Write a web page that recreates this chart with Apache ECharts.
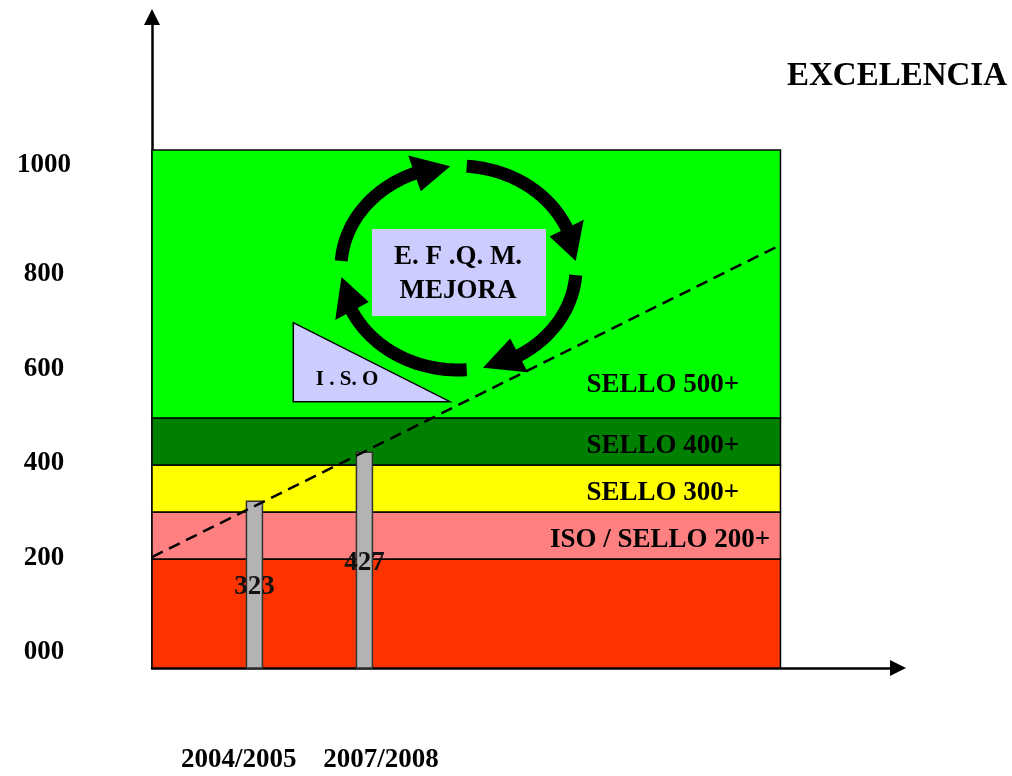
<!DOCTYPE html>
<html>
<head>
<meta charset="utf-8">
<script src="https://cdn.jsdelivr.net/npm/echarts@6/dist/echarts.min.js"></script>
<style>
html,body{margin:0;padding:0;background:#fff;}
#chart{width:1012px;height:776px;}
</style>
</head>
<body>
<div id="chart"></div>
<script>
// ---- data ----
const periods = ['2004/2005', '2007/2008'];
const barValues = [323, 427];
const barPos = [16.3, 33.8];            // x position of each bar (axis units)
const periodLabelPos = [13.8, 36.45];   // x position of period labels (axis units)
const yTickLabels = ['000', '200', '400', '600', '800', '1000'];
const yTickAt = [2, 202, 404, 604, 807, 1038];
const bandNames = ['', 'ISO / SELLO 200+', 'SELLO 300+', 'SELLO 400+', 'SELLO 500+'];
const bandEdges = [-32, 200, 300, 400, 500, 1070];
const trendFrom = [0, 204];
const trendTo = [100, 868];

// ---- styles ----
const FONT = "'Liberation Serif', 'Times New Roman', serif";
const bandColors = ['#ff3300', '#ff8080', '#ffff00', '#008000', '#00ff00'];
const bandLabelRight = [0, 11, 42, 42, 42];
const yMin = -32, yMax = 1353, xMin = 0, xMax = 118.7;
const barLabelLift = [81, 105];

function nearestIndex(arr, v) {
  let best = 0;
  for (let i = 1; i < arr.length; i++) if (Math.abs(arr[i] - v) < Math.abs(arr[best] - v)) best = i;
  return best;
}

const chart = echarts.init(document.getElementById('chart'));

const markAreaData = bandNames.map((name, i) => {
  const isTop = i === bandNames.length - 1;
  return [
    {
      name: name,
      xAxis: 0,
      yAxis: bandEdges[i],
      itemStyle: { color: bandColors[i], borderColor: '#000', borderWidth: 1.5, opacity: 1 },
      label: {
        show: name !== '',
        position: isTop ? 'insideBottomRight' : 'insideRight',
        distance: isTop ? 20 : bandLabelRight[i],
        offset: isTop ? [-(bandLabelRight[i] - 20), 0] : [0, 5],
        color: '#000',
        fontFamily: FONT,
        fontWeight: 'bold',
        fontSize: 27
      }
    },
    { xAxis: 100, yAxis: bandEdges[i + 1] }
  ];
});

// decorative cycle arrows
const cx = 458.5, cy = 268, rx = 117.5, ry = 102;
const arcs = [[184, 248, 266], [274, 337, 356], [4, 59, 78], [86, 155, 175]];
function pt(deg) { const a = deg * Math.PI / 180; return [cx + rx * Math.cos(a), cy + ry * Math.sin(a)]; }
const arrowGraphics = [];
arcs.forEach(([s, b, t]) => {
  const pts = [];
  for (let d = s; d <= b + 2; d += 1) pts.push(pt(d));
  arrowGraphics.push({
    type: 'polyline', z: 100,
    shape: { points: pts },
    style: { stroke: '#000', lineWidth: 13, fill: null, lineCap: 'butt' }
  });
  const B = pt(b), T = pt(t);
  const a = b * Math.PI / 180;
  let tx = -rx * Math.sin(a), ty = ry * Math.cos(a);
  const L = Math.hypot(tx, ty); tx /= L; ty /= L;
  const nx = -ty, ny = tx, h = 19;
  arrowGraphics.push({
    type: 'polygon', z: 100,
    shape: { points: [[B[0] + nx * h, B[1] + ny * h], [T[0], T[1]], [B[0] - nx * h, B[1] - ny * h]] },
    style: { fill: '#000' }
  });
});

const option = {
  animation: false,
  title: {
    text: 'EXCELENCIA',
    right: 0,
    top: 55,
    textStyle: { fontFamily: FONT, fontWeight: 'bold', fontSize: 33, color: '#000' }
  },
  grid: { left: 152, right: 114, top: 17, bottom: 108 },
  xAxis: {
    type: 'value',
    min: xMin, max: xMax,
    axisLine: { show: true, onZero: false, lineStyle: { color: '#000', width: 2.5 }, symbol: ['none', 'triangle'], symbolSize: [16, 16] },
    axisTick: { show: false },
    splitLine: { show: false },
    axisLabel: {
      show: true,
      customValues: periodLabelPos,
      formatter: (v) => periods[nearestIndex(periodLabelPos, v)],
      margin: 79,
      hideOverlap: false,
      color: '#000', fontFamily: FONT, fontWeight: 'bold', fontSize: 27
    }
  },
  yAxis: {
    type: 'value',
    min: yMin, max: yMax,
    axisLine: { show: true, onZero: false, lineStyle: { color: '#000', width: 2.5 }, symbol: ['none', 'triangle'], symbolSize: [16, 16] },
    axisTick: { show: false },
    splitLine: { show: false },
    axisLabel: {
      show: true,
      customValues: yTickAt,
      formatter: (v) => yTickLabels[nearestIndex(yTickAt, v)],
      align: 'center',
      margin: 108,
      hideOverlap: false,
      color: '#000', fontFamily: FONT, fontWeight: 'bold', fontSize: 27
    }
  },
  series: [
    {
      type: 'line',
      z: 1,
      data: [],
      silent: true,
      markArea: { silent: true, data: markAreaData }
    },
    {
      type: 'custom',
      z: 5,
      data: barValues.map((v, i) => [barPos[i], v]),
      renderItem: (params, api) => {
        const x = api.value(0), v = api.value(1);
        const top = api.coord([x, v]);
        const bottom = api.coord([x, yMin]);
        const w = 16;
        return {
          type: 'group',
          children: [
            { type: 'rect', shape: { x: top[0] - w / 2, y: top[1], width: w, height: bottom[1] - top[1] },
              style: { fill: '#b3b3b3', stroke: '#333', lineWidth: 1.5 } },
            { type: 'text', x: top[0], y: bottom[1] - barLabelLift[params.dataIndex],
              style: { text: String(v), fill: '#111', font: 'bold 27px ' + FONT, textAlign: 'center', textVerticalAlign: 'middle' } }
          ]
        };
      }
    },
    {
      type: 'line',
      z: 10,
      data: [trendFrom, trendTo],
      symbol: 'none',
      silent: true,
      lineStyle: { color: '#000', width: 2.5, type: [12, 7] }
    }
  ],
  graphic: [
    { type: 'polygon', z: 90, shape: { points: [[293.3, 322.7], [293.3, 401.7], [450, 401.7]] },
      style: { fill: '#ccccff', stroke: '#000', lineWidth: 1.5 } },
    { type: 'text', z: 91, x: 347, y: 380,
      style: { text: 'I . S. O', font: 'bold 21px ' + FONT, fill: '#000', textAlign: 'center', textVerticalAlign: 'middle' } },
    { type: 'rect', z: 90, shape: { x: 372, y: 229, width: 174, height: 87 }, style: { fill: '#ccccff' } },
    { type: 'text', z: 91, x: 458, y: 274,
      style: { text: 'E. F .Q. M.\nMEJORA', font: 'bold 27px ' + FONT, lineHeight: 34, fill: '#000', textAlign: 'center', textVerticalAlign: 'middle' } }
  ].concat(arrowGraphics)
};
chart.setOption(option);
</script>
</body>
</html>
